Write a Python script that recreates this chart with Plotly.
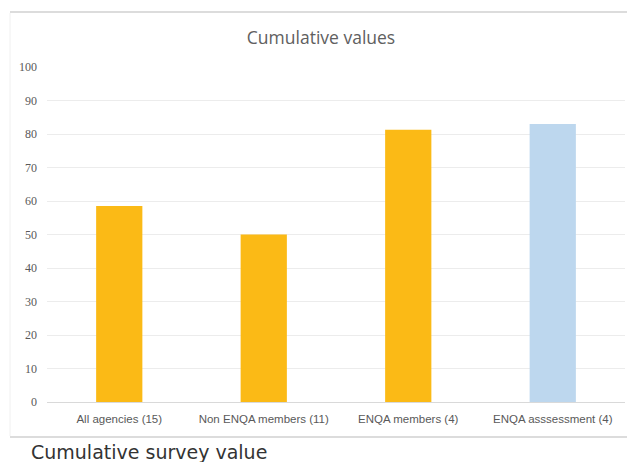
import plotly.graph_objects as go

categories = ["All agencies (15)", "Non ENQA members (11)", "ENQA members (4)", "ENQA asssessment (4)"]
values = [58.5, 50.0, 81.3, 83.0]
bar_colors = ["#FBBA16", "#FBBA16", "#FBBA16", "#BDD7EE"]
y_ticks = [0, 10, 20, 30, 40, 50, 60, 70, 80, 90, 100]

fig = go.Figure()
fig.add_trace(go.Bar(
    x=categories, y=values,
    marker=dict(color=bar_colors, line=dict(width=0)),
    width=0.32,
))

W, H = 627, 462
ml, mr, mt, mb = 47, 2, 67, 60

def px(x):
    return (x - ml) / (W - ml - mr)

def py(y):
    return (H - y - mb) / (H - mt - mb)

fig.update_layout(
    width=W, height=H,
    margin=dict(l=ml, r=mr, t=mt, b=mb),
    paper_bgcolor="white", plot_bgcolor="white",
    showlegend=False,
    font=dict(family="Liberation Sans, sans-serif", size=12, color="#595959"),
    title=dict(text="Cumulative values", x=0.512, xanchor="center",
               y=1 - 38 / H, yanchor="middle",
               font=dict(family="Open Sans, sans-serif", size=17.5, color="#606060")),
    xaxis=dict(showgrid=False, showline=True, linecolor="#d9d9d9", linewidth=1,
               ticks="", tickfont=dict(family="Liberation Sans, sans-serif",
                                       size=11.5, color="#595959"),
               ticklabelstandoff=6),
    yaxis=dict(range=[0, 100], tickvals=y_ticks, showgrid=True, gridcolor="#ececec",
               gridwidth=1, zeroline=False, showline=False, ticks="",
               tickfont=dict(family="Liberation Serif, serif", size=12, color="#595959"),
               ticklabelstandoff=9),
    bargap=0.68,
)

# frame lines
fig.add_shape(type="line", xref="paper", yref="paper",
              x0=px(10), x1=px(627), y0=py(12), y1=py(12),
              line=dict(color="#dcdcdc", width=2))
fig.add_shape(type="line", xref="paper", yref="paper",
              x0=px(10), x1=px(627), y0=py(437), y1=py(437),
              line=dict(color="#dcdcdc", width=2))
fig.add_shape(type="line", xref="paper", yref="paper",
              x0=px(10), x1=px(10), y0=py(13), y1=py(436),
              line=dict(color="#f0f0f0", width=1))

fig.add_annotation(text="Cumulative survey value", xref="paper", yref="paper",
                   x=px(29), y=py(452), xanchor="left", yanchor="middle",
                   showarrow=False,
                   font=dict(family="DejaVu Sans, sans-serif", size=19, color="#333333"))

fig.write_html("out.html")
